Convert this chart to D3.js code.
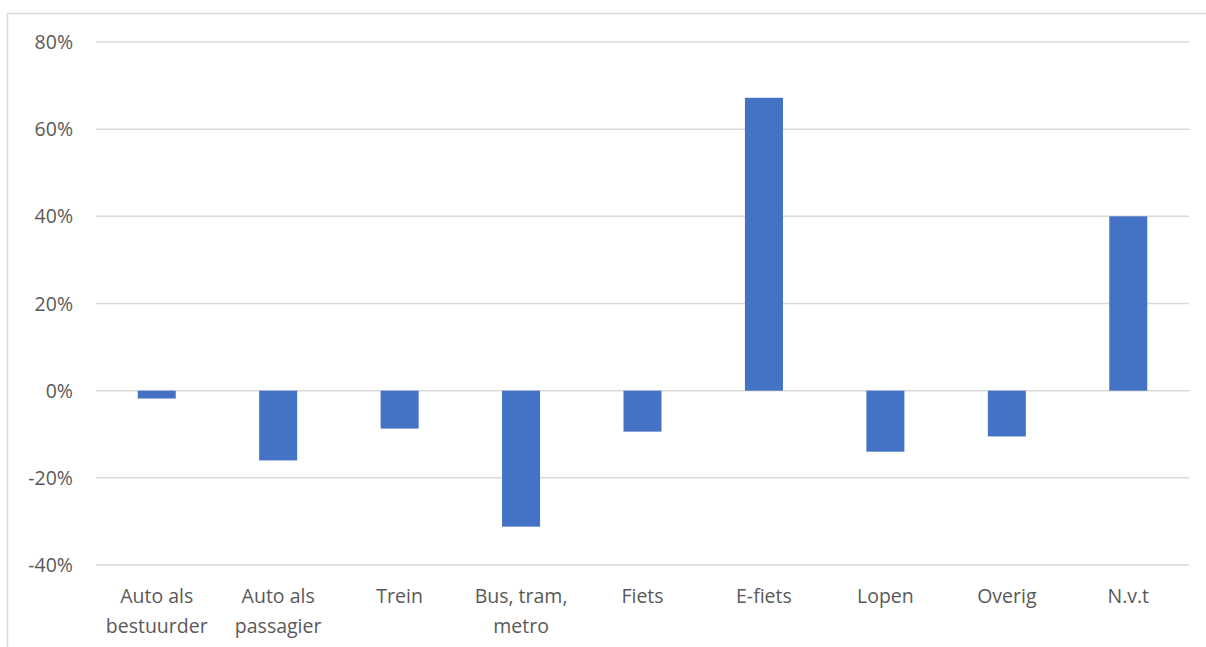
<!DOCTYPE html>
<html><head><meta charset="utf-8">
<script src="https://cdn.jsdelivr.net/npm/d3@7"></script>
<style>html,body{margin:0;padding:0;background:#fff;}svg{display:block;}</style>
</head><body>
<svg id="chart" width="1206" height="647"></svg>
<script>
const categories = ["Auto als|bestuurder","Auto als|passagier","Trein","Bus, tram,|metro","Fiets","E-fiets","Lopen","Overig","N.v.t"];
const values = [-1.8, -16.0, -8.7, -31.2, -9.4, 67.2, -14.0, -10.5, 40.0];
const yTicks = [-40, -20, 0, 20, 40, 60, 80];

const svg = d3.select("#chart");
const font = "'Open Sans', sans-serif";

// frame
svg.append("path").attr("d", "M7.5,647 V13.5 H1206").attr("fill","none").attr("stroke","#d9d9d9").attr("stroke-width",1.5);

const y = d3.scaleLinear().domain([-40, 80]).range([565, 42]);
const x = d3.scaleBand().domain(categories).range([96, 1189]).paddingInner(0.687).paddingOuter(0.3435);

// gridlines
svg.append("g").selectAll("line").data(yTicks).join("line")
  .attr("x1", 96).attr("x2", 1189)
  .attr("y1", d => y(d)).attr("y2", d => y(d))
  .attr("stroke", "#d9d9d9").attr("stroke-width", 1.5);

// y labels
svg.append("g").selectAll("text").data(yTicks).join("text")
  .attr("x", 73).attr("y", d => y(d)).attr("dy", "0.36em")
  .attr("text-anchor", "end").attr("fill", "#595959")
  .style("font-family", font).style("font-size", "19.5px")
  .text(d => d + "%");

// bars
svg.append("g").selectAll("rect").data(values).join("rect")
  .attr("x", (d,i) => x(categories[i]))
  .attr("width", x.bandwidth())
  .attr("y", d => y(Math.max(0, d)))
  .attr("height", d => Math.abs(y(d) - y(0)))
  .attr("fill", "#4472C4");

// category labels
const lab = svg.append("g").selectAll("text").data(categories).join("text")
  .attr("x", d => x(d) + x.bandwidth()/2)
  .attr("y", 603)
  .attr("text-anchor", "middle").attr("fill", "#595959")
  .style("font-family", font).style("font-size", "19.5px");
lab.each(function(d){
  const parts = d.split("|");
  d3.select(this).selectAll("tspan").data(parts).join("tspan")
    .attr("x", x(d) + x.bandwidth()/2)
    .attr("dy", (p,i) => i === 0 ? 0 : 30)
    .text(p => p);
});
</script>
</body></html>
